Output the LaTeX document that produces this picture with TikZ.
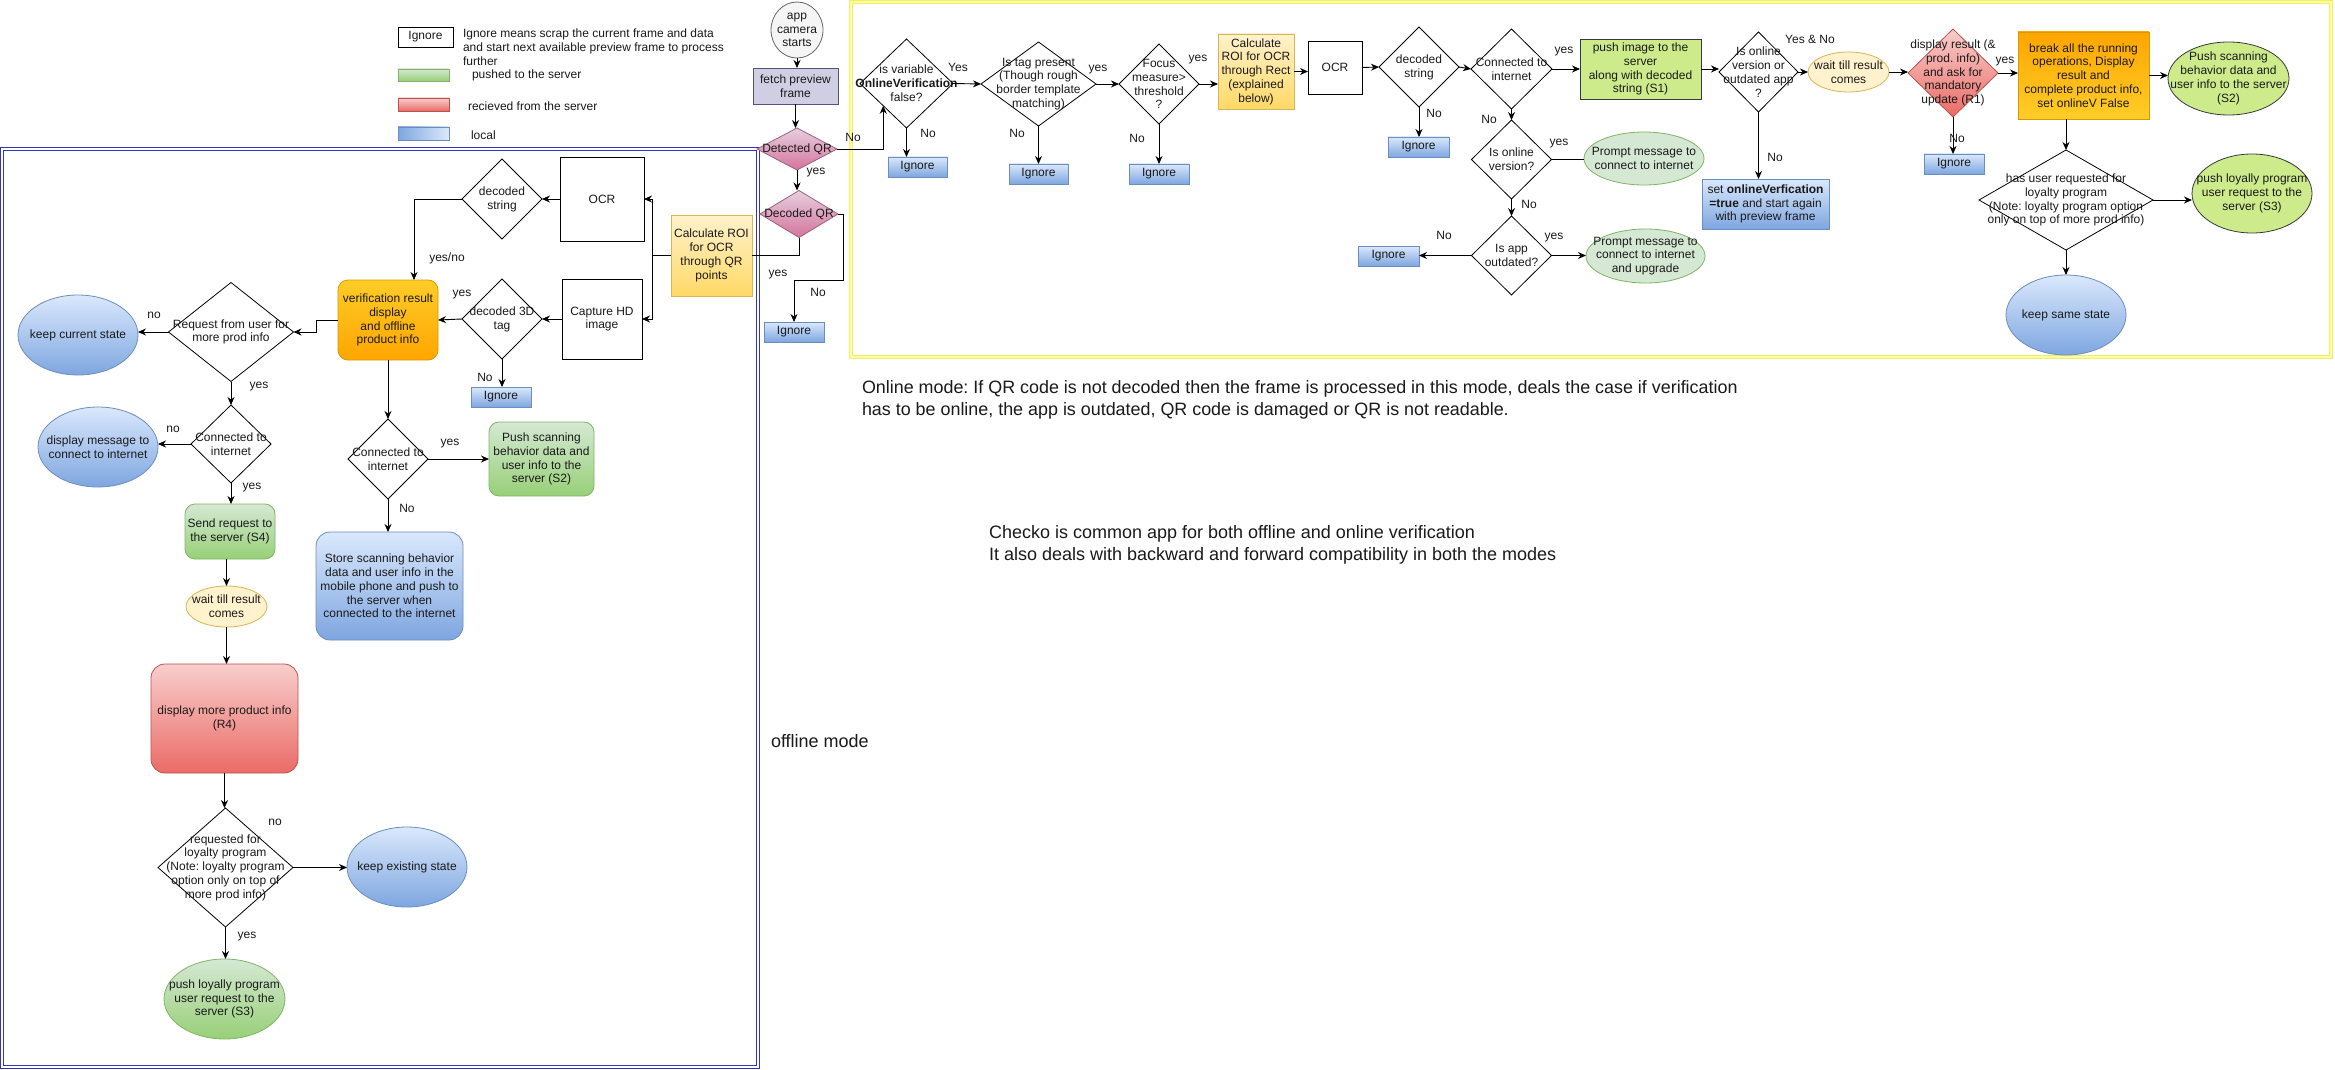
\documentclass[tikz,border=0pt]{standalone}
\usepackage{fontspec}
\setmainfont{Liberation Sans}
\usetikzlibrary{shapes.geometric,arrows.meta,calc}
\frenchspacing

\definecolor{bluetop}{HTML}{DAE8FC}
\definecolor{bluebot}{HTML}{7EA6E0}
\definecolor{bluebd}{HTML}{6C8EBF}
\definecolor{greentop}{HTML}{D5E8D4}
\definecolor{greenbot}{HTML}{97D077}
\definecolor{greenbd}{HTML}{82B366}
\definecolor{redtop}{HTML}{F8CECC}
\definecolor{redbot}{HTML}{EA6B66}
\definecolor{redbd}{HTML}{B85450}
\definecolor{yeltop}{HTML}{FFF2CC}
\definecolor{yelbot}{HTML}{FFD966}
\definecolor{yelbd}{HTML}{D6B656}
\definecolor{ortop}{HTML}{FFCD28}
\definecolor{orbot}{HTML}{FFA500}
\definecolor{orbd}{HTML}{D79B00}
\definecolor{pinktop}{HTML}{E6D0DE}
\definecolor{pinkbot}{HTML}{D5739D}
\definecolor{pinkbd}{HTML}{996185}
\definecolor{lavfill}{HTML}{D0CEE2}
\definecolor{lavbd}{HTML}{56517E}
\definecolor{limefill}{HTML}{CDEB8B}
\definecolor{limebd}{HTML}{36393D}
\definecolor{grayfill}{HTML}{F5F5F5}
\definecolor{graybd}{HTML}{666666}
\definecolor{framebl}{HTML}{3434BC}
\definecolor{frameyl}{HTML}{FFFF99}
\definecolor{frameyd}{HTML}{EEEE74}
\definecolor{txtc}{HTML}{1A1A1A}

\newcommand\txtn{\fontsize{12}{13.8}\selectfont}
\newcommand\txtonl{\fontsize{17.9}{22}\selectfont}
\newcommand\txtchk{\fontsize{18}{22}\selectfont}

\begin{document}
\begin{tikzpicture}[x=1pt,y=-1pt,
  base/.style={inner sep=0pt, outer sep=0pt, align=center, font=\txtn, text=txtc, line width=0.8pt},
  sz/.style 2 args={minimum width=#1pt, minimum height=#2pt},
  tx/.style={label={[base]center:{#1}}},
  plain/.style={base, rectangle, draw=black, fill=white},
  dia/.style={base, diamond, draw=black, fill=white},
  ell/.style={base, ellipse},
  rbox/.style={base, rectangle, rounded corners=10pt},
  ign/.style={base, rectangle, draw=bluebd, top color=bluetop, bottom color=bluebot, minimum width=60pt, minimum height=20pt},
  bluegr/.style={draw=bluebd, top color=bluetop, bottom color=bluebot},
  greengr/.style={draw=greenbd, top color=greentop, bottom color=greenbot},
  redgr/.style={draw=redbd, top color=redtop, bottom color=redbot},
  yelgr/.style={draw=yelbd, top color=yeltop, bottom color=yelbot},
  orgr/.style={draw=orbd, top color=ortop, bottom color=orbot},
  orgrb/.style={draw=orbd, top color=orbot, bottom color=ortop},
  pinkgr/.style={draw=pinkbd, top color=pinktop, bottom color=pinkbot},
  lime/.style={draw=limebd, fill=limefill},
  prompt/.style={draw=greenbd, fill=greentop},
  waitst/.style={draw=yelbd, fill=yeltop},
  lbl/.style={base},
  arr/.style={-{Stealth[length=8pt,width=7pt]}, line width=0.9pt, draw=black},
  ln/.style={line width=0.9pt, draw=black}
]
\useasboundingbox (0,0) rectangle (2335,1070);
\fill[white] (0,0) rectangle (2335,1070);

% ---------- frames ----------
\draw[draw=framebl, double=white, double distance=1.4pt, line width=1.3pt] (2,149) rectangle (758,1067);
\draw[draw=frameyd, double=frameyl, double distance=2pt, line width=0.8pt] (851,2) rectangle (2331,357);

% ---------- legend ----------
\node[plain, sz={55}{20}] (legign) at (425.5,37) {Ignore};
\node[base, anchor=north west, align=left] (legigntxt) at (463,29) {Ignore means scrap the current frame and data\\and start next available preview frame to process\\further};
\node[base, greengr, sz={51}{12}] (leggreen) at (423.5,75) {};
\node[base, anchor=west] (leggreentxt) at (472,75) {pushed to the server};
\node[base, redgr, sz={51}{13}] (legred) at (423.5,104.5) {};
\node[base, anchor=west] (legredtxt) at (468,106) {recieved from the server};
\node[base, draw=bluebd, left color=bluebot, right color=bluetop, sz={51}{13}] (legblue) at (423.5,133.5) {};
\node[base, anchor=west] (legbluetxt) at (471,135) {local};

% ---------- entry column ----------
\node[ell, draw=graybd, fill=grayfill, sz={52}{56}, tx={app\\camera\\starts}] (start) at (797,30) {};
\node[base, rectangle, draw=lavbd, fill=lavfill, sz={85}{36}] (fetch) at (795.5,86) {fetch preview\\frame};
\node[base, diamond, pinkgr, sz={80}{42}, tx={Detected QR}] (detqr) at (797,149) {};
\node[base, diamond, pinkgr, sz={78}{47}, tx={Decoded QR}] (decqr) at (799,214) {};
\node[ign] (ignqr) at (794,332) {Ignore};
\node[base, rectangle, yelgr, sz={81}{81}] (calcoff) at (711.5,255.5) {Calculate ROI\\for OCR\\through QR\\points};

% ---------- offline mode ----------
\node[plain, sz={84}{84}] (ocroff) at (602,199) {OCR};
\node[plain, sz={80}{80}] (capoff) at (602,319) {Capture HD\\image};
\node[dia, sz={80}{80}, tx={decoded\\string}] (dsoff) at (502,199) {};
\node[dia, sz={80}{80}, tx={decoded 3D\\tag}] (d3off) at (502,319) {};
\node[rbox, orgr, sz={100}{80}] (veroff) at (388,320) {verification result\\display\\and offline\\product info};
\node[ign] (ign3d) at (501,397) {Ignore};
\node[dia, sz={80}{80}, tx={Connected to\\internet}] (conoff) at (388,459) {};
\node[rbox, greengr, sz={105}{74}] (pushoff) at (541.5,459) {Push scanning\\behavior data and\\user info to the\\server (S2)};
\node[rbox, bluegr, rounded corners=14pt, sz={147}{108}] (storeoff) at (389.5,586) {Store scanning behavior\\data and user info in the\\mobile phone and push to\\the server when\\connected to the internet};
\node[dia, sz={125}{99}, tx={Request from user for\\more prod info}] (reqoff) at (231,332) {};
\node[ell, bluegr, sz={120}{80}, tx={keep current state}] (keepcur) at (78,335) {};
\node[dia, sz={80}{78}, tx={Connected to\\internet}] (con2off) at (231,444) {};
\node[ell, bluegr, sz={120}{80}, tx={display message to\\connect to internet}] (dispmsg) at (98,447) {};
\node[rbox, greengr, sz={90}{55}] (sendreq) at (230,531.5) {Send request to\\the server (S4)};
\node[ell, waitst, sz={81}{41}, tx={wait till result\\comes}] (waitoff) at (226.5,606.5) {};
\node[rbox, redgr, rounded corners=14pt, sz={147}{109}] (moreinfo) at (224.5,718.5) {display more product info\\(R4)};
\node[dia, sz={135}{119}, tx={requested for\\loyalty program\\(Note: loyalty program\\option only on top of\\more prod info)}] (loyoff) at (225.5,867.5) {};
\node[ell, bluegr, sz={120}{80}, tx={keep existing state}] (keepex) at (407,867) {};
\node[ell, greengr, sz={121}{80}, tx={push  loyally program\\user request to the\\server (S3)}] (pushloyoff) at (224.5,999) {};

% ---------- online mode ----------
\node[dia, sz={93}{89}, tx={is variable\\\textbf{OnlineVerification}\\false?}] (isvar) at (906.5,83.5) {};
\node[ign, sz={59}{20}] (ignvar) at (917.5,167) {Ignore};
\node[dia, sz={115}{84}, tx={Is tag present\\(Though rough\\border template\\matching)}] (istag) at (1038.5,84) {};
\node[ign, sz={59}{20}] (igntag) at (1038.5,174) {Ignore};
\node[dia, sz={80}{80}, tx={Focus\\measure>\\threshold\\?}] (focus) at (1159,84) {};
\node[ign] (ignfoc) at (1159,174) {Ignore};
\node[base, rectangle, yelgr, sz={76}{75}] (calcon) at (1256,71.5) {Calculate\\ROI for OCR\\through Rect\\(explained\\below)};
\node[plain, sz={54}{53}] (ocron) at (1335,67.5) {OCR};
\node[dia, sz={80}{80}, tx={decoded\\string}] (dson) at (1419,67) {};
\node[ign, sz={61}{20}] (ignds) at (1418.5,147) {Ignore};
\node[dia, sz={81}{80}, tx={Connected to\\internet}] (conon) at (1511.5,69) {};
\node[base, rectangle, lime, sz={121}{60}] (pushimg) at (1640.5,69) {push image to the\\server\\along with decoded\\string (S1)};
\node[dia, sz={80}{79}, tx={Is online\\version?}] (isonl) at (1511.5,159.5) {};
\node[ell, prompt, sz={120}{53}, tx={Prompt message to\\connect to internet}] (prompt1) at (1644,158.5) {};
\node[dia, sz={80}{79}, tx={Is app\\outdated?}] (isout) at (1511.5,255.5) {};
\node[ign, sz={61}{20}] (ignout) at (1388.5,256) {Ignore};
\node[ell, prompt, sz={119}{54}, tx={Prompt message to\\connect to internet\\and upgrade}] (prompt2) at (1645.5,256) {};
\node[dia, sz={79}{80}, tx={Is online\\version or\\outdated app\\?}] (oo) at (1758.5,72) {};
\node[base, rectangle, bluegr, sz={127}{50}] (setov) at (1765.5,204) {set \textbf{onlineVerfication}\\\textbf{=true} and start again\\with preview frame};
\node[ell, waitst, sz={81}{40}, tx={wait till result\\comes}] (waiton) at (1848.5,72) {};
\node[base, diamond, redgr, sz={90}{88}, tx={display result (\&\\prod. info)\\and ask for\\mandatory\\update (R1)}] (dispres) at (1953,73) {};
\node[ign] (igndisp) at (1954,164) {Ignore};
\node[base, rectangle, orgrb, sz={131}{87}] (brk) at (2083.5,75.5) {break all the running\\operations, Display\\result and\\complete product info,\\set onlineV False};
\node[ell, lime, sz={121}{73}, tx={Push scanning\\behavior data and\\user info to the server\\(S2)}] (pushs2on) at (2228.5,78.5) {};
\node[dia, sz={174}{100}, tx={has user requested  for\\loyalty program\\(Note: loyalty program option\\only on top of more prod info)}] (hasuser) at (2066,200) {};
\node[ell, lime, sz={120}{79}, tx={push  loyally program\\user request to the\\server (S3)}] (pushloyon) at (2252,193.5) {};
\node[ell, bluegr, sz={120}{80}, tx={keep same state}] (keepsame) at (2066,315) {};

% ---------- free texts ----------
\node[base, font=\txtonl, anchor=north west, align=left] (onlinenote) at (862,381) {Online mode: If QR code is not decoded then the frame is processed in this mode, deals the case if verification\\has to be online, the app is outdated, QR code is damaged or QR is not readable.};
\node[base, font=\txtchk, anchor=north west, align=left] (checkonote) at (989,525) {Checko is common app for both offline and online verification\\It also deals with backward and forward compatibility in both the modes};
\node[base, font=\txtchk, anchor=west] (offlinenote) at (771,741) {offline mode};

% ---------- connectors: entry ----------
\coordinate (isvarin) at ($(isvar.west)!0.5!(isvar.south)$);
\draw[arr] (start.south) -- (start.south |- fetch.north);
\draw[arr] (fetch.south) -- (fetch.south |- detqr.north);
\draw[arr] (detqr.east) -| (isvarin);
\draw[arr] (detqr.south) -- (detqr.south |- decqr.north);
\draw[arr] (decqr.east) -- ++(5,0) -- ++(0,66) -| (ignqr.north);
\draw[ln] (decqr.south) |- (calcoff.east);
\node[lbl] (lbdetno) at (853,137) {No};
\node[lbl] (lbdetyes) at (816,173) {yes};
\node[lbl] (lbdecno) at (818,292) {No};
\node[lbl] (lbdecyes) at (778,275) {yes};

% ---------- connectors: offline ----------
\draw[arr] (calcoff.west) -- ++(-19,0) coordinate (cj) |- (ocroff.east);
\draw[arr] (cj) |- (capoff.east);
\draw[arr] (ocroff.west) -- (dsoff.east);
\draw[arr] (capoff.west) -- (d3off.east);
\draw[arr] (dsoff.west) -| ($(veroff.north)+(26,0)$);
\draw[arr] (d3off.west) -- (veroff.east);
\draw[arr] (d3off.south) -- (d3off.south |- ign3d.north);
\draw[arr] (veroff.south) -- (conoff.north);
\draw[arr] (conoff.east) -- (pushoff.west);
\draw[arr] (conoff.south) -- (conoff.south |- storeoff.north);
\draw[arr] (veroff.west) -- ++(-22,0) |- (reqoff.east);
\draw[arr] (reqoff.west) -- (reqoff.west -| keepcur.east);
\draw[arr] (reqoff.south) -- (con2off.north);
\draw[arr] (con2off.west) -- (con2off.west -| dispmsg.east);
\draw[arr] (con2off.south) -- (con2off.south |- sendreq.north);
\draw[arr] (waitoff.north |- sendreq.south) -- (waitoff.north);
\draw[arr] (waitoff.south) -- (waitoff.south |- moreinfo.north);
\draw[arr] (moreinfo.south) -- (moreinfo.south |- loyoff.north);
\draw[arr] (loyoff.east) -- (loyoff.east -| keepex.west);
\draw[arr] (loyoff.south) -- (loyoff.south |- pushloyoff.north);
\node[lbl] (lbyesno) at (447,258) {yes/no};
\node[lbl] (lb3dyes) at (462,295) {yes};
\node[lbl] (lb3dno) at (485,377) {No};
\node[lbl] (lbconyes) at (450,444) {yes};
\node[lbl] (lbconno) at (407,508) {No};
\node[lbl] (lbreqno) at (154,315) {no};
\node[lbl] (lbreqyes) at (259,387) {yes};
\node[lbl] (lbcon2no) at (173,429) {no};
\node[lbl] (lbcon2yes) at (252,488) {yes};
\node[lbl] (lbloyno) at (275,822) {no};
\node[lbl] (lbloyyes) at (247,937) {yes};

% ---------- connectors: online ----------
\draw[arr] (isvar.east) -- (istag.west);
\draw[arr] (isvar.south) -- (isvar.south |- ignvar.north);
\draw[arr] (istag.east) -- (focus.west);
\draw[arr] (istag.south) -- (igntag.north);
\draw[arr] (focus.east) -- (focus.east -| calcon.west);
\draw[arr] (focus.south) -- (ignfoc.north);
\draw[arr] (calcon.east) -- (calcon.east -| ocron.west);
\draw[arr] (ocron.east) -- (dson.west);
\draw[arr] (dson.east) -- (conon.west);
\draw[arr] (dson.south) -- (dson.south |- ignds.north);
\draw[arr] (conon.east) -- (pushimg.west);
\draw[arr] (conon.south) -- (isonl.north);
\draw[ln] (isonl.east) -- (isonl.east -| prompt1.west);
\draw[arr] (isonl.south) -- (isout.north);
\draw[arr] (isout.west) -- (isout.west -| ignout.east);
\draw[arr] (isout.east) -- (isout.east -| prompt2.west);
\draw[arr] (pushimg.east) -- (pushimg.east -| oo.west);
\draw[arr] (oo.east) -- (waiton.west);
\draw[arr] (oo.south) -- (oo.south |- setov.north);
\draw[arr] (waiton.east) -- (waiton.east -| dispres.west);
\draw[arr] (dispres.east) -- (dispres.east -| brk.west);
\draw[arr] (dispres.south) -- (dispres.south |- igndisp.north);
\draw[arr] (brk.east) -- (brk.east -| pushs2on.west);
\draw[arr] (hasuser.north |- brk.south) -- (hasuser.north);
\draw[arr] (hasuser.east) -- (hasuser.east -| pushloyon.west);
\draw[arr] (hasuser.south) -- (keepsame.north);
\node[lbl] (lbvaryes) at (958,67) {Yes};
\node[lbl] (lbvarno) at (928,133) {No};
\node[lbl] (lbtagyes) at (1098,70) {yes};
\node[lbl] (lbtagno) at (1017,133) {No};
\node[lbl] (lbfocyes) at (1198,60) {yes};
\node[lbl] (lbfocno) at (1137,138) {No};
\node[lbl] (lbdsno) at (1434,113) {No};
\node[lbl] (lbconyes2) at (1564,52) {yes};
\node[lbl] (lbconno2) at (1489,119) {No};
\node[lbl] (lbonlyes) at (1559,144) {yes};
\node[lbl] (lbonlno) at (1529,204) {No};
\node[lbl] (lboutno) at (1444,235) {No};
\node[lbl] (lboutyes) at (1554,238) {yes};
\node[lbl] (lbooyn) at (1810,39) {Yes \& No};
\node[lbl] (lbooono) at (1775,157) {No};
\node[lbl] (lbdispno) at (1957,138) {No};
\node[lbl] (lbdispyes) at (2005,62) {yes};
\end{tikzpicture}
\end{document}
